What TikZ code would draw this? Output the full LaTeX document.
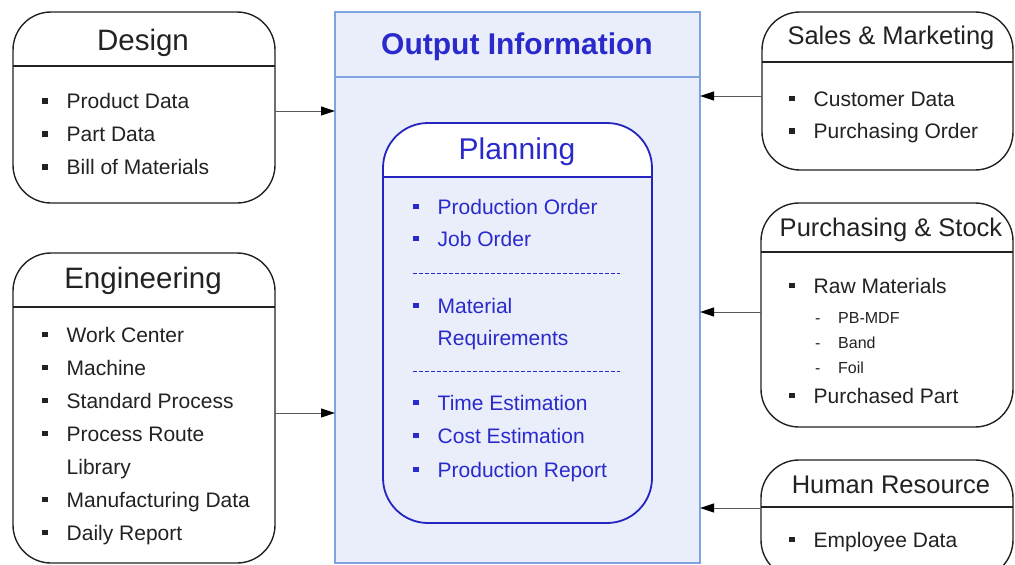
\documentclass[tikz,border=0pt]{standalone}
\usepackage{fontspec}
\setmainfont{Liberation Sans}
\usetikzlibrary{arrows.meta}
\definecolor{bgblue}{HTML}{E9EEFA}
\definecolor{oline}{HTML}{7EA4E2}
\definecolor{pblue}{HTML}{2424BE}
\definecolor{tblue}{HTML}{2A2ACC}
\definecolor{dark}{HTML}{222222}
\newcommand\sqb{\raisebox{5pt}{\rule{5.5pt}{5.5pt}}\hspace{19pt}}
\newcommand\nob{\hspace{24.5pt}}
\newcommand\subd{\makebox[23pt][l]{-}}
\tikzset{
  dept/.style={draw=dark, line width=1.4pt, rounded corners=38pt, fill=white, inner sep=0pt, outer sep=0pt, anchor=north west},
  hline/.style={draw=dark, line width=1.2pt},
  item/.style={anchor=base west, inner sep=0pt, font=\fontsize{21}{25}\selectfont, text=dark},
  subitem/.style={item, font=\fontsize{16}{20}\selectfont},
  ttl/.style={anchor=base, inner sep=0pt, font=\fontsize{29.5}{33}\selectfont, text=dark},
  rttl/.style={ttl, font=\fontsize{25.5}{29}\selectfont},
  pitem/.style={item, text=tblue},
  pdash/.style={draw=tblue, line width=0.8pt, dash pattern=on 3.5pt off 2.5pt},
  arr/.style={draw=black!65, line width=1pt, -{Triangle[length=14pt,width=9pt,color=black]}},
}
\begin{document}
\begin{tikzpicture}[x=1pt,y=-1pt]
\useasboundingbox (0,0) rectangle (1015,565);
\clip (0,0) rectangle (1015,565);
\fill[white] (0,0) rectangle (1015,565);

% Output information
\node[draw=oline, line width=1.1pt, fill=bgblue, minimum width=365pt, minimum height=551pt, inner sep=0pt, outer sep=0pt, anchor=north west] (output) at (335,12) {};
\draw[draw=oline, line width=1.1pt] (output.west |- 0,77) -- (output.east |- 0,77);
\node[anchor=base, inner sep=0pt, font=\fontsize{30}{34}\selectfont\bfseries, text=tblue] (outtitle) at (517,54) {Output Information};

% Planning
\begin{scope}
  \clip (383,123) rectangle (652,177);
  \fill[white, rounded corners=45pt] (383,123) rectangle (652,523);
\end{scope}
\node[draw=pblue, line width=1.8pt, rounded corners=45pt, minimum width=269pt, minimum height=400pt, inner sep=0pt, outer sep=0pt, anchor=north west] (planning) at (383,123) {};
\draw[draw=pblue, line width=1.6pt] (planning.west |- 0,177) -- (planning.east |- 0,177);
\node[anchor=base, inner sep=0pt, font=\fontsize{30}{34}\selectfont, text=tblue] (ptitle) at (517,159) {Planning};
\node[pitem] (p1) at (413,214) {\sqb Production Order};
\node[pitem] (p2) at (413,246) {\sqb Job Order};
\draw[pdash] (413,273) -- (620,273);
\node[pitem] (p3) at (413,313) {\sqb Material};
\node[pitem] (p3b) at (413,345) {\nob Requirements};
\draw[pdash] (413,371) -- (620,371);
\node[pitem] (p4) at (413,410) {\sqb Time Estimation};
\node[pitem] (p5) at (413,443) {\sqb Cost Estimation};
\node[pitem] (p6) at (413,477) {\sqb Production Report};

% Design
\node[dept, minimum width=262pt, minimum height=191pt] (design) at (13,12) {};
\draw[hline] (design.west |- 0,66) -- (design.east |- 0,66);
\node[ttl] (dtitle) at (143,50) {Design};
\node[item] (d1) at (42,108.5) {\sqb Product Data};
\node[item] (d2) at (42,141.5) {\sqb Part Data};
\node[item] (d3) at (42,174.5) {\sqb Bill of Materials};

% Engineering
\node[dept, minimum width=262pt, minimum height=310pt] (eng) at (13,253) {};
\draw[hline] (eng.west |- 0,307) -- (eng.east |- 0,307);
\node[ttl] (etitle) at (143,288) {Engineering};
\node[item] (e1) at (42,342) {\sqb Work Center};
\node[item] (e2) at (42,375) {\sqb Machine};
\node[item] (e3) at (42,408) {\sqb Standard Process};
\node[item] (e4) at (42,441) {\sqb Process Route};
\node[item] (e4b) at (42,474) {\nob Library};
\node[item] (e5) at (42,507) {\sqb Manufacturing Data};
\node[item] (e6) at (42,540) {\sqb Daily Report};

% Sales & Marketing
\node[dept, minimum width=251pt, minimum height=158pt] (sales) at (762,12) {};
\draw[hline] (sales.west |- 0,62) -- (sales.east |- 0,62);
\node[rttl] (stitle) at (891,44) {Sales \& Marketing};
\node[item] (s1) at (789,106) {\sqb Customer Data};
\node[item] (s2) at (789,138.5) {\sqb Purchasing Order};

% Purchasing & Stock
\node[dept, minimum width=252pt, minimum height=224pt] (purch) at (761,203) {};
\draw[hline] (purch.west |- 0,252) -- (purch.east |- 0,252);
\node[rttl] (ptitle2) at (891,236) {Purchasing \& Stock};
\node[item] (u1) at (789,293) {\sqb Raw Materials};
\node[subitem] (u2) at (815,323) {\subd PB-MDF};
\node[subitem] (u3) at (815,348) {\subd Band};
\node[subitem] (u4) at (815,373) {\subd Foil};
\node[item] (u5) at (789,403) {\sqb Purchased Part};

% Human Resource
\node[dept, minimum width=252pt, minimum height=118pt] (hr) at (761,460) {};
\draw[hline] (hr.west |- 0,507) -- (hr.east |- 0,507);
\node[rttl] (htitle) at (891,493) {Human Resource};
\node[item] (h1) at (789,547) {\sqb Employee Data};

% Connectors
\draw[arr] (design.east |- 0,111) -- (output.west |- 0,111);
\draw[arr] (eng.east |- 0,413) -- (output.west |- 0,413);
\draw[arr] (sales.west |- 0,96) -- (output.east |- 0,96);
\draw[arr] (purch.west |- 0,312) -- (output.east |- 0,312);
\draw[arr] (hr.west |- 0,508) -- (output.east |- 0,508);
\end{tikzpicture}
\end{document}
